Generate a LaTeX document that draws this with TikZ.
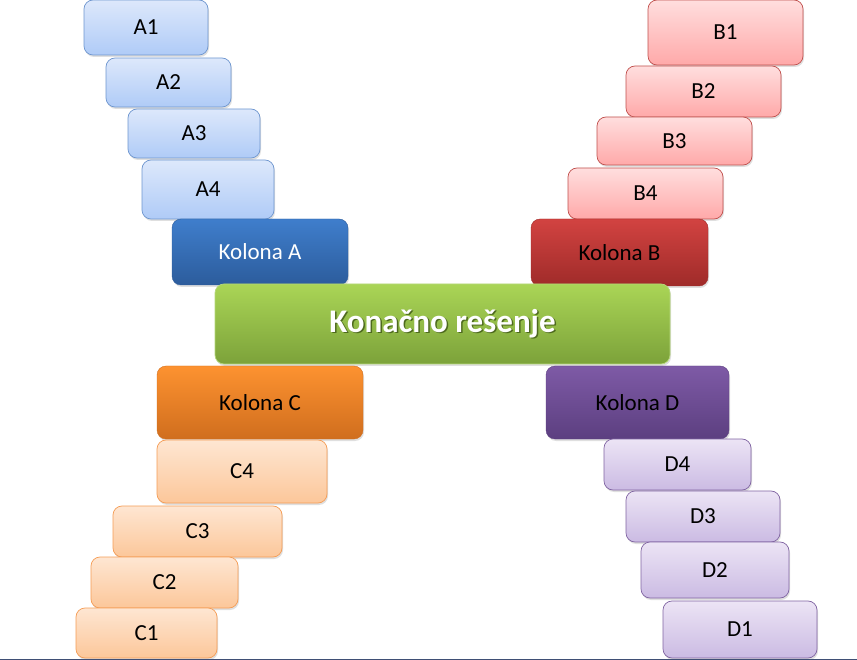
\documentclass[tikz,border=0pt]{standalone}
\usepackage{fontspec}
\setmainfont{Carlito}
\usetikzlibrary{shadows}

\definecolor{aTop}{HTML}{DDE8FB}
\definecolor{aBot}{HTML}{AFCBF7}
\definecolor{aLine}{HTML}{6E96CF}
\definecolor{kaTop}{HTML}{3F7ECC}
\definecolor{kaBot}{HTML}{2C5C9C}
\definecolor{bTop}{HTML}{FFDEDE}
\definecolor{bBot}{HTML}{FFA9A9}
\definecolor{bLine}{HTML}{C0504D}
\definecolor{kbTop}{HTML}{D24341}
\definecolor{kbBot}{HTML}{9F2B29}
\definecolor{cTop}{HTML}{FEE6D2}
\definecolor{cBot}{HTML}{FCC79A}
\definecolor{cLine}{HTML}{F59D56}
\definecolor{kcTop}{HTML}{FD9230}
\definecolor{kcBot}{HTML}{D06E1E}
\definecolor{dTop}{HTML}{ECE4F5}
\definecolor{dBot}{HTML}{CBBBE3}
\definecolor{dLine}{HTML}{8064A2}
\definecolor{kdTop}{HTML}{7E5AA6}
\definecolor{kdBot}{HTML}{5C3F80}
\definecolor{gTop}{HTML}{AAD556}
\definecolor{gBot}{HTML}{7CA23A}
\definecolor{gLine}{HTML}{B5D77A}
\definecolor{gShade}{HTML}{4E6A1E}
\definecolor{slideLine}{HTML}{3F4F75}

\newcommand{\shadowtext}[1]{\makebox[0pt][l]{\hspace{1.5pt}\raisebox{-1.5pt}{\color{gShade}#1}}#1}

\begin{document}
\begin{tikzpicture}[x=1pt,y=-1pt,
    box/.style={rounded corners=9pt, draw, line width=0.7pt, inner sep=0pt,
        font=\fontsize{23}{27}\selectfont,
        drop shadow={opacity=0.25, shadow xshift=1pt, shadow yshift=-2pt}},
    boxa/.style={box, top color=aTop, bottom color=aBot, draw=aLine},
    boxb/.style={box, top color=bTop, bottom color=bBot, draw=bLine},
    boxc/.style={box, top color=cTop, bottom color=cBot, draw=cLine},
    boxd/.style={box, top color=dTop, bottom color=dBot, draw=dLine},
    kolona/.style={box, line width=0.4pt, minimum height=72pt},
    final/.style={box, top color=gTop, bottom color=gBot, draw=gLine,
        text=white, font=\fontsize{33}{39}\selectfont\bfseries}]
    \useasboundingbox (0,0) rectangle (857,660);

    \node[boxa, minimum width=124pt, minimum height=55pt] (a1) at (146,27.5) {A1};
    \node[boxa, minimum width=125pt, minimum height=49pt] (a2) at (168.5,82.5) {A2};
    \node[boxa, minimum width=132pt, minimum height=49pt] (a3) at (194,133.5) {A3};
    \node[boxa, minimum width=132pt, minimum height=59pt] (a4) at (208,189.5) {A4};
    \node[kolona, top color=kaTop, bottom color=kaBot, draw=kaBot, text=white,
        minimum width=176pt, minimum height=66pt] (kolA) at (260,252) {Kolona A};

    \node[boxb, minimum width=155pt, minimum height=65pt] (b1) at (725.5,32.5) {B1};
    \node[boxb, minimum width=155pt, minimum height=51pt] (b2) at (703.5,91.5) {B2};
    \node[boxb, minimum width=155pt, minimum height=48pt] (b3) at (674.5,141) {B3};
    \node[boxb, minimum width=155pt, minimum height=51pt] (b4) at (645.5,193.5) {B4};
    \node[kolona, top color=kbTop, bottom color=kbBot, draw=kbBot,
        minimum width=177pt, minimum height=67pt] (kolB) at (619.5,252.5) {Kolona B};

    \node[kolona, top color=kcTop, bottom color=kcBot, draw=kcBot,
        minimum width=206pt, minimum height=73pt] (kolC) at (260,402.5) {Kolona C};
    \node[boxc, minimum width=170pt, minimum height=63pt] (c4) at (242,471.5) {C4};
    \node[boxc, minimum width=169pt, minimum height=51pt] (c3) at (197.5,531.5) {C3};
    \node[boxc, minimum width=147pt, minimum height=51pt] (c2) at (164.5,582.5) {C2};
    \node[boxc, minimum width=141pt, minimum height=50pt] (c1) at (146.5,633) {C1};

    \node[kolona, top color=kdTop, bottom color=kdBot, draw=kdBot,
        minimum width=183pt, minimum height=73pt] (kolD) at (637.5,402.5) {Kolona D};
    \node[boxd, minimum width=147pt, minimum height=51pt] (d4) at (677.5,464.5) {D4};
    \node[boxd, minimum width=154pt, minimum height=51pt] (d3) at (703,516.5) {D3};
    \node[boxd, minimum width=148pt, minimum height=56pt] (d2) at (715,570) {D2};
    \node[boxd, minimum width=154pt, minimum height=57pt] (d1) at (740,629.5) {D1};

    \node[final, minimum width=455pt, minimum height=80pt] (resenje) at (442.5,324)
        {\shadowtext{Konačno rešenje}};

    \draw[slideLine, line width=1.5pt] (0,659.25) -- (857,659.25);
\end{tikzpicture}
\end{document}
